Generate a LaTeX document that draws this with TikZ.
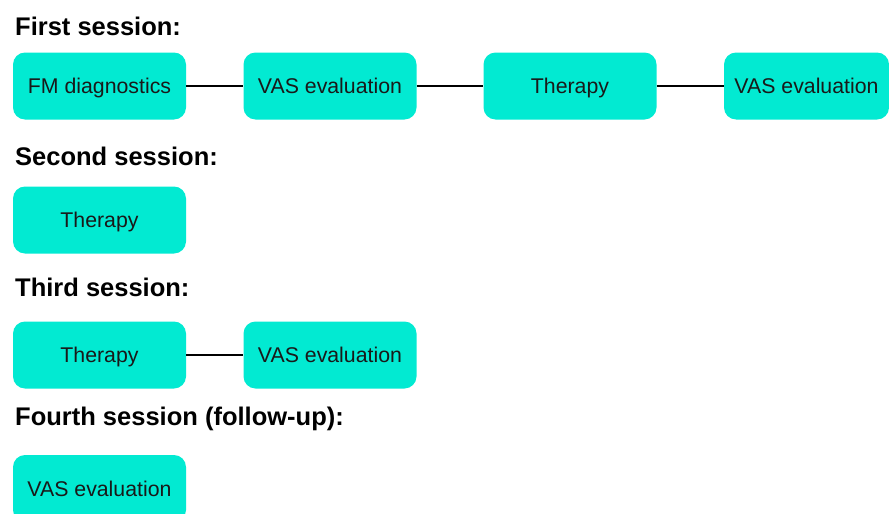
\documentclass[tikz,border=0pt]{standalone}
\usepackage{fontspec}
\setmainfont{Liberation Sans}
\definecolor{turq}{RGB}{2,234,210}
\definecolor{boxtext}{RGB}{25,25,25}
\tikzset{
  stepbox/.style={fill=turq,rounded corners=12pt,minimum width=173pt,minimum height=67pt,
    inner sep=0pt,text height=15.3pt,text depth=0pt,text=boxtext,
    font=\fontsize{21.3}{25}\selectfont},
  heading/.style={anchor=base west,inner sep=0pt,font=\fontsize{25.5}{30}\selectfont\bfseries},
  link/.style={line width=1.6pt,black}
}
\begin{document}
\begin{tikzpicture}[x=1pt,y=-1pt]
\useasboundingbox (0,0) rectangle (889,514);
\clip (0,0) rectangle (889,514);
% first session
\node[heading] (h1) at (15,35.5) {First session:};
\node[stepbox] (fm) at (99.5,86) {FM diagnostics};
\node[stepbox] (vasa) at (330,86) {VAS evaluation};
\node[stepbox] (thera) at (570,86) {Therapy};
\node[stepbox,minimum width=165pt] (vasb) at (806.5,86) {VAS evaluation};
\draw[link] (fm) -- (vasa);
\draw[link] (vasa) -- (thera);
\draw[link] (thera) -- (vasb);
% second session
\node[heading] (h2) at (15,165) {Second session:};
\node[stepbox] (therb) at (99.5,220) {Therapy};
% third session
\node[heading] (h3) at (15,296) {Third session:};
\node[stepbox] (therc) at (99.5,355) {Therapy};
\node[stepbox] (vasc) at (330,355) {VAS evaluation};
\draw[link] (therc) -- (vasc);
% fourth session
\node[heading] (h4) at (15,425) {Fourth session (follow-up):};
\node[stepbox] (vasd) at (99.5,488.5) {VAS evaluation};
\end{tikzpicture}
\end{document}
